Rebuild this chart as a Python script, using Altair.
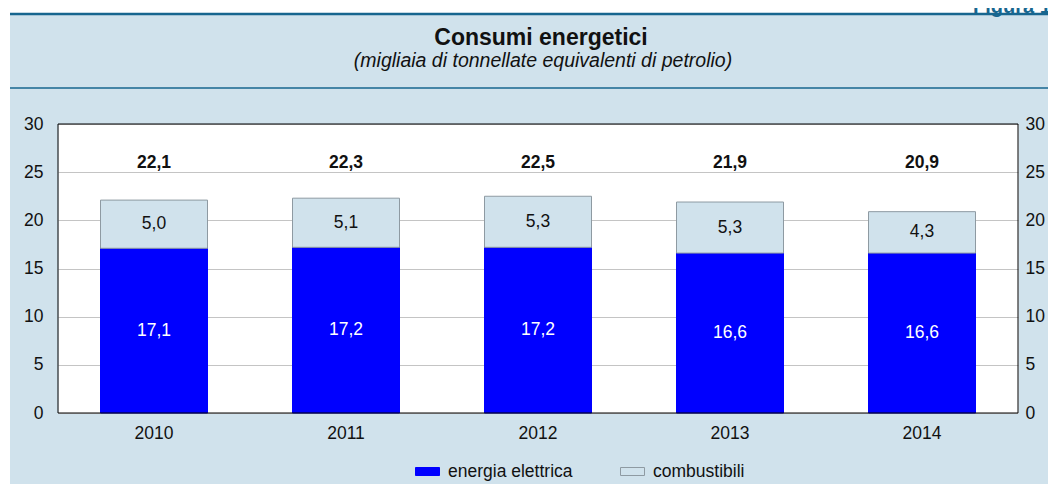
import altair as alt
import pandas as pd

# ---- data ----
anni = ["2010", "2011", "2012", "2013", "2014"]
serie = ["energia elettrica", "combustibili"]
elettrica = [17.1, 17.2, 17.2, 16.6, 16.6]
combustibili = [5.0, 5.1, 5.3, 5.3, 4.3]
totali = [22.1, 22.3, 22.5, 21.9, 20.9]
y_ticks = [0, 5, 10, 15, 20, 25, 30]

titolo = "Consumi energetici"
sottotitolo = "(migliaia di tonnellate equivalenti di petrolio)"
figura = "Figura 1."


def fmt(v):
    return f"{v:.1f}".replace(".", ",")


rows = []
for i, a in enumerate(anni):
    rows.append({"anno": a, "serie": serie[0], "ord": 0, "val": elettrica[i], "lab": fmt(elettrica[i])})
    rows.append({"anno": a, "serie": serie[1], "ord": 1, "val": combustibili[i], "lab": fmt(combustibili[i])})
df = pd.DataFrame(rows)
tot = pd.DataFrame({"anno": anni, "tot": totali, "lab": [fmt(v) for v in totali]})
one = pd.DataFrame({"k": [0]})

FONT = "Liberation Sans"
BG = "#d0e2ec"
TEAL = "#17668f"
W, H = 960, 289
FS = 17.5

yscale = alt.Scale(domain=[0, 30], nice=False, zero=True)
x_axis = alt.Axis(labelAngle=0, ticks=False, domain=False, labelPadding=11,
                  labelFontSize=FS, labelFont=FONT, labelColor="#111")
x_enc = alt.X("anno:O", title=None, axis=x_axis)

# ---- decorations ----
decor_rect = alt.Chart(one).mark_rect(fill="white").encode(
    x=alt.value(-50), x2=alt.value(-48), y=alt.value(-116), y2=alt.value(370)
)
decor_top = alt.Chart(one).mark_rect(fill="white").encode(
    x=alt.value(-50), x2=alt.value(1000), y=alt.value(-116), y2=alt.value(-111)
)
line_top = alt.Chart(one).mark_rule(color=TEAL, strokeWidth=2.5).encode(
    x=alt.value(-48), x2=alt.value(1000), y=alt.value(-110)
)
line_title = alt.Chart(one).mark_rule(color=TEAL, strokeWidth=1.5).encode(
    x=alt.value(-48), x2=alt.value(1000), y=alt.value(-36)
)
t_title = alt.Chart(one).mark_text(
    font=FONT, fontSize=23, fontWeight="bold", color="#111", align="center", baseline="alphabetic"
).encode(x=alt.value(483), y=alt.value(-79), text=alt.value(titolo))
t_sub = alt.Chart(one).mark_text(
    font=FONT, fontSize=19.5, fontStyle="italic", color="#111", align="center", baseline="alphabetic"
).encode(x=alt.value(485), y=alt.value(-57), text=alt.value(sottotitolo))
t_fig = alt.Chart(one).mark_text(
    font=FONT, fontSize=20, fontWeight="bold", color=TEAL, align="left", baseline="alphabetic"
).encode(x=alt.value(915), y=alt.value(-111.5), text=alt.value(figura))

# ---- bars ----
bars = alt.Chart(df).mark_bar(size=107, strokeWidth=1).encode(
    x=x_enc,
    y=alt.Y("val:Q", stack="zero", scale=yscale, title=None,
            axis=alt.Axis(orient="left", values=y_ticks, ticks=False, domain=False,
                          labelPadding=15, labelFontSize=FS, labelFont=FONT, labelColor="#111",
                          grid=True, gridColor="#c4c4c4", gridWidth=1)),
    color=alt.Color("serie:N", scale=alt.Scale(domain=serie, range=["#0000ff", BG]),
                    legend=alt.Legend(title=None)),
    stroke=alt.Stroke("serie:N", scale=alt.Scale(domain=serie, range=["#0000ff", "#8e9aa2"]),
                      legend=alt.Legend(title=None)),
    order=alt.Order("ord:Q"),
)

seg = alt.Chart(df).transform_stack(
    stack="val", groupby=["anno"], as_=["y0", "y1"], sort=[alt.SortField("ord")]
).transform_calculate(mid="(datum.y0 + datum.y1) / 2").mark_text(
    font=FONT, fontSize=FS, baseline="middle", align="center"
).encode(
    x=x_enc,
    y=alt.Y("mid:Q", scale=yscale, title=None,
            axis=alt.Axis(orient="right", values=y_ticks, ticks=False, domain=False,
                          labelPadding=7, labelFontSize=FS, labelFont=FONT, labelColor="#111",
                          grid=False)),
    text="lab:N",
    color=alt.condition("datum.serie == 'energia elettrica'", alt.value("white"), alt.value("#111")),
)

tot_txt = alt.Chart(tot).mark_text(
    font=FONT, fontSize=FS, fontWeight="bold", baseline="middle", align="center", color="#111"
).encode(
    x=x_enc,
    y=alt.YDatum(26, scale=yscale, axis=None),
    text="lab:N",
)

frame = alt.Chart(one).mark_rect(fillOpacity=0, stroke="#000", strokeWidth=1).encode(
    x=alt.value(0), x2=alt.value(W), y=alt.value(0), y2=alt.value(H)
)

chart = alt.layer(
    decor_rect, decor_top, line_top, line_title, t_title, t_sub, t_fig,
    bars, seg, tot_txt, frame,
).resolve_scale(y="shared").resolve_axis(y="independent").properties(
    width=W, height=H,
    autosize=alt.AutoSizeParams(type="none"),
    padding={"left": 50, "top": 116, "right": 30, "bottom": 71},
).configure(
    background=BG,
).configure_view(
    fill="white", stroke="transparent"
).configure_legend(
    orient="none", direction="horizontal", legendX=357, legendY=335,
    symbolType="M-1,-0.3333H1V0.3333H-1Z", symbolSize=576, symbolStrokeWidth=1,
    labelFont=FONT, labelFontSize=FS, labelColor="#111", labelOffset=8,
    columnPadding=45, padding=0,
)

chart.save("out.html", embed_options={"renderer": "svg", "actions": False})
